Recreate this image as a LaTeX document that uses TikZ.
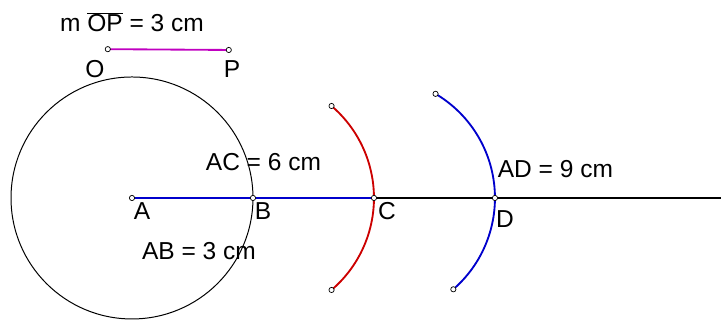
\documentclass[tikz,border=0pt]{standalone}
\usepackage{fontspec}
\setmainfont{Liberation Sans}
\definecolor{arcred}{RGB}{204, 0, 0}
\definecolor{arcblue}{RGB}{0, 0, 204}
\definecolor{segpurple}{RGB}{192, 0, 192}
\usepackage{tikz}
\usetikzlibrary{calc}

\begin{document}
\begin{tikzpicture}[
    lbl/.style={anchor=base, inner sep=0pt, font=\fontsize{17.3}{20}\selectfont},
    pt/.style={circle, draw=black, fill=white, line width=0.5pt, inner sep=0pt, minimum size=0.13cm},
    thickline/.style={line width=1.3pt}]
    \useasboundingbox (-3.273, -3.025) rectangle (14.605, 4.909);
    % the given segment OP
    \coordinate (O) at (-0.6, 3.69);
    \coordinate (P) at (2.4, 3.67);
    \node[lbl] (title) at (0, 4.116) {m $\overline{\hbox{OP}}$ = 3 cm};
    \draw[thickline, segpurple] (O) -- (P);
    % points on the line
    \coordinate (A) at (0, 0);
    \coordinate (B) at (3, 0);
    \coordinate (C) at (6, 0);
    \coordinate (D) at (9, 0);
    \coordinate (E) at (14.605, 0);
    \draw[line width=0.7pt] (A) circle[radius=3];
    \draw[thickline, arcblue] (A) -- (C);
    \draw[thickline] (C) -- (E);
    % arcs
    \coordinate (r1) at ($(B)+(-49.5:3)$);
    \coordinate (r2) at ($(B)+(49.5:3)$);
    \coordinate (b1) at ($(C)+(-49:3)$);
    \coordinate (b2) at ($(C)+(59.4:3)$);
    \draw[thickline, arcred] (r1) arc[start angle=-49.5, end angle=49.5, radius=3];
    \draw[thickline, arcblue] (b1) arc[start angle=-49, end angle=59.4, radius=3];
    % markers
    \foreach \p in {O, P, A, B, C, D, r1, r2, b1, b2}
        \node[pt] at (\p) {};
    % labels
    \node[lbl] (labO) at (-0.917, 2.975) {O};
    \node[lbl] (labP) at (2.48, 2.975) {P};
    \node[lbl] (labA) at (0.25, -0.545) {A};
    \node[lbl] (labB) at (3.25, -0.545) {B};
    \node[lbl] (labC) at (6.32, -0.545) {C};
    \node[lbl] (labD) at (9.25, -0.72) {D};
    \node[lbl] (ac) at (3.26, 0.67) {AC = 6 cm};
    \node[lbl] (ab) at (1.66, -1.537) {AB = 3 cm};
    \node[lbl] (ad) at (10.5, 0.52) {AD = 9 cm};
\end{tikzpicture}
\end{document}
